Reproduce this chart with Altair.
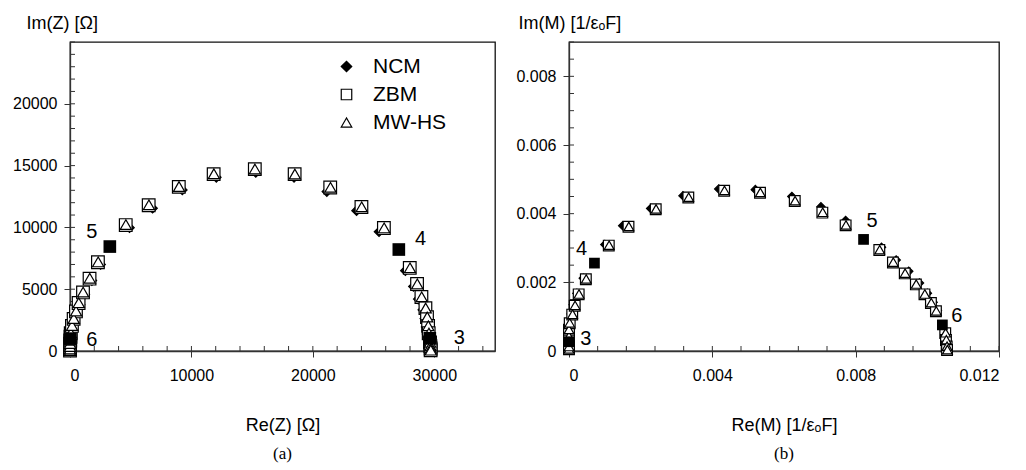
import altair as alt
import pandas as pd

FONT = "Liberation Sans"
SERIES = ["NCM", "ZBM", "MW-HS"]

# ---------------- Panel (a): impedance plane ----------------
z_ncm_re = [0, 0, 10, 30, 50, 80, 110, 230, 380, 590, 830, 1220, 1800, 2520, 4900, 6800, 9250, 12050,
            15300, 18450, 21150, 23600, 25450, 27620, 28280, 28680, 29050, 29220, 29330, 29400, 29540,
            29590, 29610, 29620]
z_ncm_im = [30, 140, 330, 570, 810, 1100, 1380, 1950, 2500, 3080, 3750, 4600, 5700, 7000, 9980, 11550,
            13030, 14050, 14450, 14050, 12900, 11350, 9650, 6500, 5220, 4200, 3330, 2620, 1940, 1380, 660,
            370, 180, 50]
z_zbm_re = [0, 0, 0, 10, 20, 40, 60, 160, 300, 490, 710, 1070, 1610, 2300, 4590, 6480, 8960, 11830,
            15220, 18500, 21430, 24000, 25850, 27980, 28580, 28940, 29270, 29400, 29490, 29540, 29650,
            29680, 29700, 29700]
z_zbm_im = [30, 150, 350, 600, 850, 1150, 1440, 2030, 2600, 3200, 3880, 4740, 5850, 7180, 10190, 11790,
            13280, 14310, 14715, 14310, 13230, 11650, 9950, 6720, 5420, 4370, 3470, 2740, 2030, 1440, 700,
            400, 200, 60]
z_mw_re = [0, 0, 0, 10, 25, 45, 70, 170, 310, 500, 720, 1080, 1630, 2320, 4600, 6500, 8980, 11850,
           15230, 18520, 21450, 24020, 25870, 28000, 28600, 28960, 29290, 29420, 29510, 29560, 29660,
           29690, 29710, 29710]
z_mw_im = [30, 160, 360, 610, 870, 1170, 1460, 2060, 2630, 3230, 3910, 4770, 5890, 7210, 10230, 11830,
           13310, 14340, 14730, 14320, 13240, 11660, 9960, 6730, 5430, 4380, 3480, 2750, 2040, 1450, 710,
           410, 210, 70]
z_dec_re = [30, 3280, 27080, 29630]
z_dec_im = [1000, 8450, 8210, 1030]
z_lab_text = ["6", "5", "4", "3"]
z_lab_re = [1800, 1800, 28860, 32060]
z_lab_im = [890, 9590, 9080, 1030]
z_xmajor = [0, 10000, 20000, 30000]
z_ymajor = [0, 5000, 10000, 15000, 20000]
z_xminor = list(range(0, 35001, 2000))
z_yminor = list(range(0, 25001, 1000))

# ---------------- Panel (b): modulus plane ----------------
m_ncm_re = [0, 0, 0, 0, 0.00001, 0.00006, 0.00012, 0.00022, 0.00040, 0.00100, 0.00150, 0.00228, 0.00318,
            0.00418, 0.00520, 0.00622, 0.00703, 0.00772, 0.00872, 0.00913, 0.00948, 0.00978, 0.01000,
            0.01016, 0.01028, 0.01052, 0.01054, 0.01055, 0.01056]
m_ncm_im = [0.00005, 0.00012, 0.00043, 0.00063, 0.00083, 0.00108, 0.00135, 0.00168, 0.00212, 0.00310,
            0.00365, 0.00415, 0.00452, 0.00472, 0.00470, 0.00450, 0.00420, 0.00380, 0.00302, 0.00265,
            0.00232, 0.00198, 0.00168, 0.00142, 0.00118, 0.00053, 0.00033, 0.00013, 0.00003]
m_zbm_re = [0, 0, 0, 0, 0.00002, 0.00009, 0.00016, 0.00027, 0.00047, 0.00111, 0.00166, 0.00242, 0.00333,
            0.00433, 0.00533, 0.00630, 0.00707, 0.00772, 0.00866, 0.00904, 0.00937, 0.00968, 0.00992,
            0.01010, 0.01024, 0.01050, 0.01052, 0.01054, 0.01055]
m_zbm_im = [0.00005, 0.00012, 0.00042, 0.00062, 0.00081, 0.00106, 0.00132, 0.00165, 0.00209, 0.00307,
            0.00362, 0.00413, 0.00447, 0.00467, 0.00461, 0.00437, 0.00403, 0.00366, 0.00294, 0.00258,
            0.00226, 0.00194, 0.00165, 0.00140, 0.00116, 0.00052, 0.00032, 0.00013, 0.00003]
m_mw_re = [0, 0, 0, 0, 0.00002, 0.00010, 0.00017, 0.00028, 0.00048, 0.00112, 0.00167, 0.00243, 0.00334,
           0.00434, 0.00534, 0.00631, 0.00708, 0.00773, 0.00867, 0.00905, 0.00938, 0.00969, 0.00993,
           0.01011, 0.01025, 0.01051, 0.01053, 0.01055, 0.01056]
m_mw_im = [0.00006, 0.00013, 0.00043, 0.00063, 0.00082, 0.00107, 0.00133, 0.00166, 0.00210, 0.00308,
           0.00363, 0.00414, 0.00448, 0.00468, 0.00462, 0.00438, 0.00404, 0.00367, 0.00295, 0.00259,
           0.00227, 0.00195, 0.00166, 0.00141, 0.00117, 0.00053, 0.00033, 0.00014, 0.00004]
m_dec_re = [0.0, 0.00071, 0.00822, 0.01042]
m_dec_im = [0.00027, 0.00256, 0.00325, 0.00076]
m_lab_text = ["3", "4", "5", "6"]
m_lab_re = [0.00047, 0.00035, 0.00846, 0.01082]
m_lab_im = [0.00034, 0.00297, 0.00380, 0.00101]
m_xmajor = [0, 0.004, 0.008, 0.012]
m_ymajor = [0, 0.002, 0.004, 0.006, 0.008]
m_xminor = [i * 0.0008 for i in range(16)]
m_yminor = [i * 0.0005 for i in range(19)]


def make_panel(series_xy, sizes, dec_re, dec_im, lab_text, lab_re, lab_im,
               xdom, ydom, xmaj, ymaj, xmin, ymin, w, h, fmt,
               xtitle, ytitle, ytx, lx, ly, sub, dec_size):
    xs = alt.Scale(domain=xdom, nice=False, zero=False)
    ys = alt.Scale(domain=ydom, nice=False, zero=False)
    xax = alt.Axis(values=xmaj, format=fmt, title=xtitle, tickSize=6, labelPadding=10,
                   titleY=79, titleBaseline="alphabetic")
    yax = alt.Axis(values=ymaj, format=fmt, title=ytitle, tickSize=6, labelPadding=7,
                   titleAngle=0, titleAlign="left", titleBaseline="alphabetic",
                   titleX=ytx, titleY=-14)
    leg = alt.Legend(orient="none", legendX=lx, legendY=ly, title=None, labelFont=FONT,
                     labelFontSize=21, labelColor="black", symbolSize=110,
                     symbolStrokeWidth=1.2, rowPadding=6, labelOffset=16, padding=0)
    shape_enc = alt.Shape("series:N", scale=alt.Scale(domain=SERIES, range=["diamond", "square", "triangle-up"]),
                          legend=leg)
    fill_enc = alt.Fill("series:N", scale=alt.Scale(domain=SERIES, range=["black", "white", "white"]),
                        legend=leg)
    stroke_enc = alt.Stroke("series:N", scale=alt.Scale(domain=SERIES, range=["black", "black", "black"]),
                            legend=leg)

    layers = []
    # inward minor/major ticks
    yt = alt.Chart(pd.DataFrame({"v": ymin})).mark_rule(color="#333", strokeWidth=1).encode(
        y=alt.Y("v:Q", scale=ys, axis=yax), x=alt.value(0), x2=alt.value(5))
    xt = alt.Chart(pd.DataFrame({"v": xmin})).mark_rule(color="#333", strokeWidth=1).encode(
        x=alt.X("v:Q", scale=xs, axis=xax), y=alt.value(h), y2=alt.value(h - 5))
    layers += [yt, xt]

    for name, (re, im), sz in zip(SERIES, series_xy, sizes):
        df = pd.DataFrame({"re": re, "im": im, "series": name})
        layers.append(
            alt.Chart(df).mark_point(filled=True, size=sz, strokeWidth=1.2, opacity=1).encode(
                x=alt.X("re:Q", scale=xs, axis=xax),
                y=alt.Y("im:Q", scale=ys, axis=yax),
                shape=shape_enc, fill=fill_enc, stroke=stroke_enc)
        )
    dec = alt.Chart(pd.DataFrame({"re": dec_re, "im": dec_im})).mark_point(
        shape="square", filled=True, color="black", size=dec_size, opacity=1).encode(
        x=alt.X("re:Q", scale=xs, axis=xax), y=alt.Y("im:Q", scale=ys, axis=yax))
    labs = alt.Chart(pd.DataFrame({"re": lab_re, "im": lab_im, "t": lab_text})).mark_text(
        font=FONT, fontSize=20, align="center", baseline="middle", color="black").encode(
        x=alt.X("re:Q", scale=xs, axis=xax), y=alt.Y("im:Q", scale=ys, axis=yax), text="t:N")
    layers += [dec, labs]

    return alt.layer(*layers).properties(
        width=w, height=h,
        title=alt.TitleParams(sub, orient="bottom", font="Liberation Serif", fontSize=17,
                              fontWeight="normal", color="black", offset=12, anchor="middle",
                              frame="group"))


left = make_panel([(z_ncm_re, z_ncm_im), (z_zbm_re, z_zbm_im), (z_mw_re, z_mw_im)], [90, 160, 125],
                  z_dec_re, z_dec_im, z_lab_text, z_lab_re, z_lab_im,
                  [0, 35000], [0, 25000], z_xmajor, z_ymajor, z_xminor, z_yminor, 425, 309, "d",
                  "Re(Z) [Ω]", "Im(Z) [Ω]", -44, 266, 14, "(a)", 160)
right = make_panel([(m_ncm_re, m_ncm_im), (m_zbm_re, m_zbm_im), (m_mw_re, m_mw_im)], [70, 115, 95],
                   m_dec_re, m_dec_im, m_lab_text, m_lab_re, m_lab_im,
                   [0, 0.012], [0, 0.009], m_xmajor, m_ymajor, m_xminor, m_yminor, 430, 309, "~g",
                   "Re(M) [1/εₒF]", "Im(M) [1/εₒF]", -51, 278, 13, "(b)", 115)

chart = alt.hconcat(left, right, spacing=19).properties(
    padding={"left": 3, "top": 5, "right": 0, "bottom": 0}
).configure_view(
    stroke="#111", strokeWidth=1.3
).configure_axis(
    grid=False, domainColor="#333", domainWidth=1.3, tickColor="#333", tickWidth=1,
    labelFont=FONT, labelFontSize=16, labelColor="black",
    titleFont=FONT, titleFontSize=18, titleFontWeight="normal", titleColor="black"
)

chart.save("out.html", embed_options={"renderer": "svg", "actions": False})
